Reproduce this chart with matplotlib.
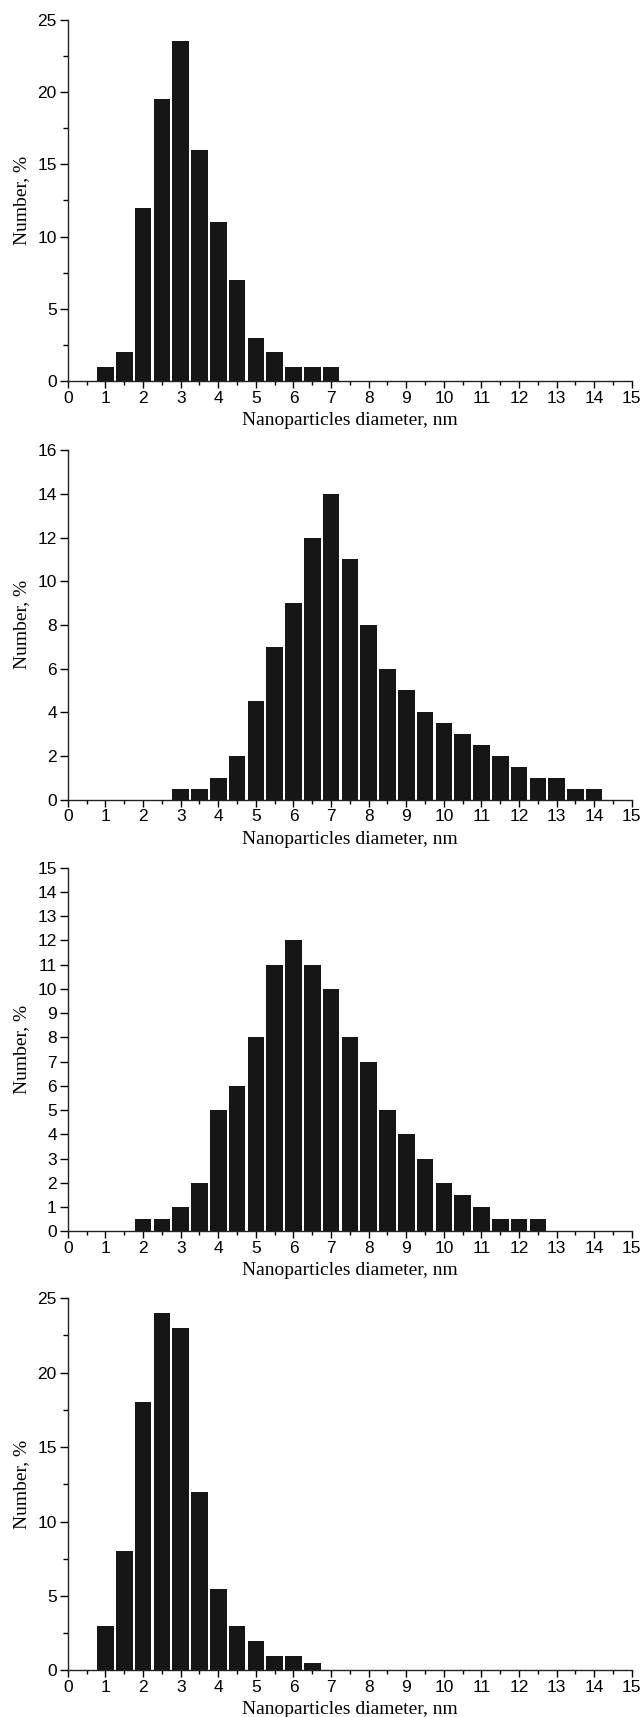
import numpy as np
import matplotlib
matplotlib.use("Agg")
import matplotlib.pyplot as plt
from matplotlib.ticker import MultipleLocator

# bin centres (nm) and percentages for each histogram
centres_a = [1, 1.5, 2, 2.5, 3, 3.5, 4, 4.5, 5, 5.5, 6, 6.5, 7]
values_a = [1, 2, 12, 19.5, 23.5, 16, 11, 7, 3, 2, 1, 1, 1]

centres_b = [3, 3.5, 4, 4.5, 5, 5.5, 6, 6.5, 7, 7.5, 8, 8.5, 9, 9.5, 10,
             10.5, 11, 11.5, 12, 12.5, 13, 13.5, 14]
values_b = [0.5, 0.5, 1, 2, 4.5, 7, 9, 12, 14, 11, 8, 6, 5, 4, 3.5,
            3, 2.5, 2, 1.5, 1, 1, 0.5, 0.5]

centres_c = [2, 2.5, 3, 3.5, 4, 4.5, 5, 5.5, 6, 6.5, 7, 7.5, 8, 8.5, 9,
             9.5, 10, 10.5, 11, 11.5, 12, 12.5]
values_c = [0.5, 0.5, 1, 2, 5, 6, 8, 11, 12, 11, 10, 8, 7, 5, 4,
            3, 2, 1.5, 1, 0.5, 0.5, 0.5]

centres_d = [1, 1.5, 2, 2.5, 3, 3.5, 4, 4.5, 5, 5.5, 6, 6.5]
values_d = [3, 8, 18, 24, 23, 12, 5.5, 3, 2, 1, 1, 0.5]

x_ticks = list(range(0, 16))
XLABEL = "Nanoparticles diameter, nm"
YLABEL = "Number, %"

BAR_COLOR = "#161616"
TICK_FONT = "Liberation Sans"
LABEL_FONT = "Liberation Serif"

# (centres, values, ymax, y major step, y minor step, axes rect)
panels = [
    (centres_a, values_a, 25, 5, 2.5, [0.1056, 0.778, 0.877, 0.2105]),
    (centres_b, values_b, 16, 2, None, [0.1056, 0.5343, 0.877, 0.2035]),
    (centres_c, values_c, 15, 1, None, [0.1056, 0.2829, 0.877, 0.2118]),
    (centres_d, values_d, 25, 5, 2.5, [0.1056, 0.0271, 0.877, 0.2169]),
]


def draw_panel(fig, centres, values, ymax, major, minor, rect):
    ax = fig.add_axes(rect)
    ax.bar(centres, values, width=0.44, color=BAR_COLOR, edgecolor="none")
    ax.set_xlim(0, 15)
    ax.set_ylim(0, ymax)
    ax.spines["top"].set_visible(False)
    ax.spines["right"].set_visible(False)
    for side in ("left", "bottom"):
        ax.spines[side].set_linewidth(1.0)
        ax.spines[side].set_color("#222222")

    ax.set_xticks(x_ticks)
    ax.xaxis.set_minor_locator(MultipleLocator(0.5))
    ax.yaxis.set_major_locator(MultipleLocator(major))
    if minor:
        ax.yaxis.set_minor_locator(MultipleLocator(minor))

    ax.tick_params(axis="x", which="major", direction="out", length=5, width=1,
                   pad=2, labelsize=12.5)
    ax.tick_params(axis="x", which="minor", direction="out", length=3, width=1)
    ax.tick_params(axis="y", which="major", direction="out", length=6, width=1,
                   pad=2, labelsize=12.5)
    ax.tick_params(axis="y", which="minor", direction="out", length=3.5, width=1)
    for lab in ax.get_xticklabels() + ax.get_yticklabels():
        lab.set_family(TICK_FONT)

    ax.set_xlabel(XLABEL, family=LABEL_FONT, fontsize=14, labelpad=4.5)
    ax.set_ylabel(YLABEL, family=LABEL_FONT, fontsize=14, labelpad=5)
    return ax


def main() -> None:
    fig = plt.figure(figsize=(6.43, 17.17), dpi=100)
    for centres, values, ymax, major, minor, rect in panels:
        draw_panel(fig, centres, values, ymax, major, minor, rect)
    fig.savefig("out.png", dpi=100)
    plt.close(fig)


if __name__ == "__main__":
    main()
